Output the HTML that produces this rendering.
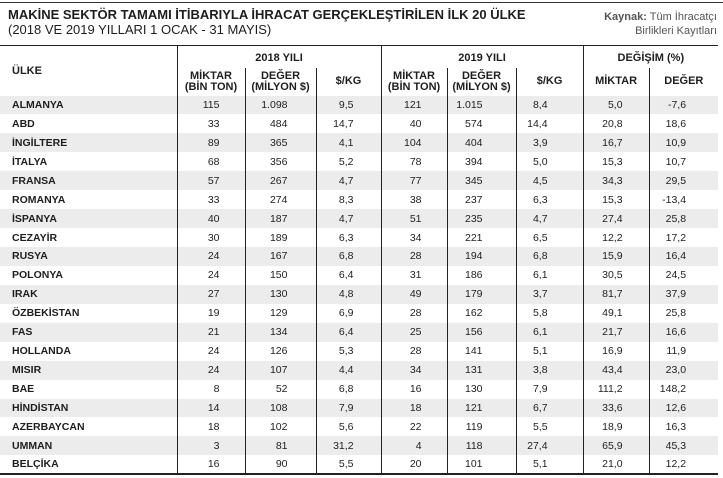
<!DOCTYPE html>
<html><head><meta charset="utf-8"><style>
*{margin:0;padding:0;box-sizing:border-box}
body{width:723px;height:478px;background:#fff;position:relative;overflow:hidden;font-family:"Liberation Sans Narrow","Liberation Sans",sans-serif;color:#1e1e1e}
.top{position:absolute;left:0;top:2px;width:723px;height:1px;background:#333}
.t1{position:absolute;left:8px;top:7px;font-size:13px;font-weight:bold;white-space:nowrap}
.t2{position:absolute;left:8px;top:22px;font-size:13px;white-space:nowrap}
.src{position:absolute;right:6px;top:10px;font-size:11px;text-align:right;line-height:14px;color:#555}
.src b{color:#555}
table{position:absolute;left:0;top:45px;width:718px;border-collapse:collapse;table-layout:fixed;border-top:1.5px solid #222;border-bottom:2px solid #222;font-size:10.5px}
td,th{white-space:nowrap;overflow:visible}
th{font-weight:bold;text-align:center;line-height:11px;font-size:11px}
.h1 th{height:22px;padding-top:3px}
.h2 th{height:28px;vertical-align:middle}
.bl{border-left:1px solid #222}
tbody td{height:18.95px;line-height:18px;text-align:right;border-left:1px solid #222;font-size:10.5px}
tbody td:first-child{border-left:none;text-align:left;padding-left:12px;font-weight:bold}
tbody tr:nth-child(odd){background:#ececec}
td:nth-child(2){padding-right:25px}
td:nth-child(3){padding-right:28px}
td:nth-child(4){padding-right:27px}
td:nth-child(5){padding-right:25px}
td:nth-child(6){padding-right:33px}
td:nth-child(7){padding-right:35px}
td:nth-child(8){padding-right:26px}
td:nth-child(9){padding-right:32px}
</style></head><body>
<div class="top"></div>
<div class="t1">MAKİNE SEKTÖR TAMAMI İTİBARIYLA İHRACAT GERÇEKLEŞTİRİLEN İLK 20 ÜLKE</div>
<div class="t2">(2018 VE 2019 YILLARI 1 OCAK - 31 MAYIS)</div>
<div class="src"><b>Kaynak:</b> Tüm İhracatçı<br>Birlikleri Kayıtları</div>
<table>
<colgroup><col style="width:177px"><col style="width:68px"><col style="width:71px"><col style="width:65px"><col style="width:66px"><col style="width:69px"><col style="width:67px"><col style="width:66px"><col style="width:69px"></colgroup>
<thead>
<tr class="h1"><th rowspan="2" style="text-align:left;padding-left:12px;vertical-align:top;padding-top:20px">ÜLKE</th><th colspan="3" class="bl">2018 YILI</th><th colspan="3" class="bl">2019 YILI</th><th colspan="2" class="bl">DEĞİŞİM (%)</th></tr>
<tr class="h2"><th class="bl">MİKTAR<br>(BİN TON)</th><th class="bl">DEĞER<br>(MİLYON $)</th><th class="bl">$/KG</th><th class="bl">MİKTAR<br>(BİN TON)</th><th class="bl">DEĞER<br>(MİLYON $)</th><th class="bl">$/KG</th><th class="bl">MİKTAR</th><th class="bl">DEĞER</th></tr>
</thead>
<tbody>
<tr><td>ALMANYA</td><td>115</td><td>1.098</td><td>9,5</td><td>121</td><td>1.015</td><td>8,4</td><td>5,0</td><td>-7,6</td></tr>
<tr><td>ABD</td><td>33</td><td>484</td><td>14,7</td><td>40</td><td>574</td><td>14,4</td><td>20,8</td><td>18,6</td></tr>
<tr><td>İNGİLTERE</td><td>89</td><td>365</td><td>4,1</td><td>104</td><td>404</td><td>3,9</td><td>16,7</td><td>10,9</td></tr>
<tr><td>İTALYA</td><td>68</td><td>356</td><td>5,2</td><td>78</td><td>394</td><td>5,0</td><td>15,3</td><td>10,7</td></tr>
<tr><td>FRANSA</td><td>57</td><td>267</td><td>4,7</td><td>77</td><td>345</td><td>4,5</td><td>34,3</td><td>29,5</td></tr>
<tr><td>ROMANYA</td><td>33</td><td>274</td><td>8,3</td><td>38</td><td>237</td><td>6,3</td><td>15,3</td><td>-13,4</td></tr>
<tr><td>İSPANYA</td><td>40</td><td>187</td><td>4,7</td><td>51</td><td>235</td><td>4,7</td><td>27,4</td><td>25,8</td></tr>
<tr><td>CEZAYİR</td><td>30</td><td>189</td><td>6,3</td><td>34</td><td>221</td><td>6,5</td><td>12,2</td><td>17,2</td></tr>
<tr><td>RUSYA</td><td>24</td><td>167</td><td>6,8</td><td>28</td><td>194</td><td>6,8</td><td>15,9</td><td>16,4</td></tr>
<tr><td>POLONYA</td><td>24</td><td>150</td><td>6,4</td><td>31</td><td>186</td><td>6,1</td><td>30,5</td><td>24,5</td></tr>
<tr><td>IRAK</td><td>27</td><td>130</td><td>4,8</td><td>49</td><td>179</td><td>3,7</td><td>81,7</td><td>37,9</td></tr>
<tr><td>ÖZBEKİSTAN</td><td>19</td><td>129</td><td>6,9</td><td>28</td><td>162</td><td>5,8</td><td>49,1</td><td>25,8</td></tr>
<tr><td>FAS</td><td>21</td><td>134</td><td>6,4</td><td>25</td><td>156</td><td>6,1</td><td>21,7</td><td>16,6</td></tr>
<tr><td>HOLLANDA</td><td>24</td><td>126</td><td>5,3</td><td>28</td><td>141</td><td>5,1</td><td>16,9</td><td>11,9</td></tr>
<tr><td>MISIR</td><td>24</td><td>107</td><td>4,4</td><td>34</td><td>131</td><td>3,8</td><td>43,4</td><td>23,0</td></tr>
<tr><td>BAE</td><td>8</td><td>52</td><td>6,8</td><td>16</td><td>130</td><td>7,9</td><td>111,2</td><td>148,2</td></tr>
<tr><td>HİNDİSTAN</td><td>14</td><td>108</td><td>7,9</td><td>18</td><td>121</td><td>6,7</td><td>33,6</td><td>12,6</td></tr>
<tr><td>AZERBAYCAN</td><td>18</td><td>102</td><td>5,6</td><td>22</td><td>119</td><td>5,5</td><td>18,9</td><td>16,3</td></tr>
<tr><td>UMMAN</td><td>3</td><td>81</td><td>31,2</td><td>4</td><td>118</td><td>27,4</td><td>65,9</td><td>45,3</td></tr>
<tr><td>BELÇİKA</td><td>16</td><td>90</td><td>5,5</td><td>20</td><td>101</td><td>5,1</td><td>21,0</td><td>12,2</td></tr>
</tbody>
</table>
</body></html>
